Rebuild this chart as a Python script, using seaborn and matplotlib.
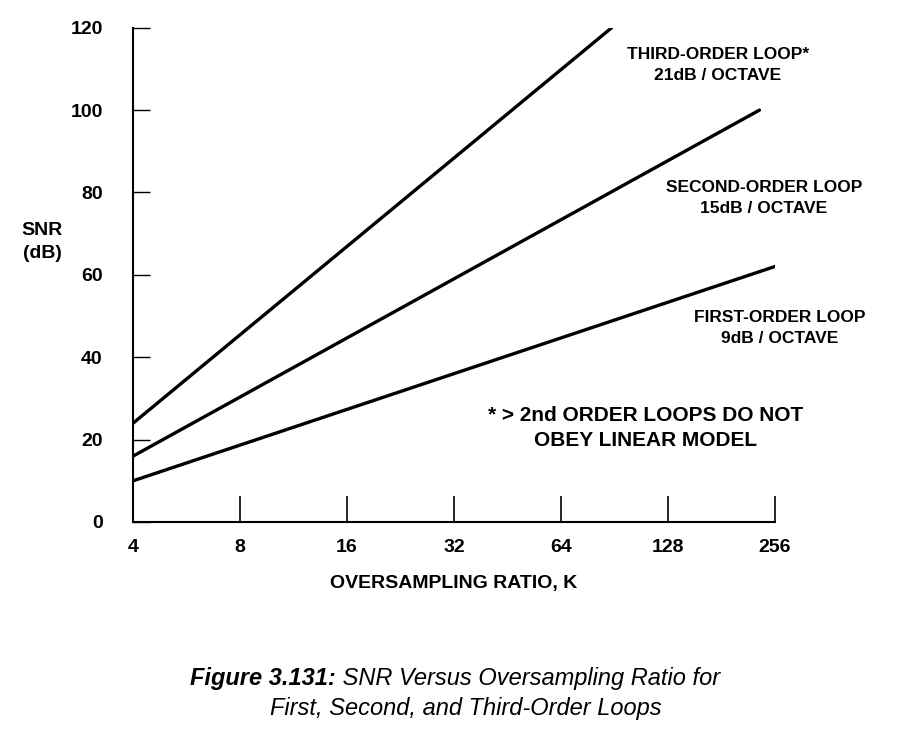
import matplotlib
matplotlib.use("Agg")
import matplotlib.pyplot as plt
import seaborn as sns
import pandas as pd

sns.set_theme(style="white")
plt.rcParams['font.family'] = ['Liberation Sans', 'DejaVu Sans']
plt.rcParams['text.color'] = 'black'
plt.rcParams['axes.labelcolor'] = 'black'

k_start = 4
first_end_k, first_vals = 256, [10, 62]
second_end_k, second_vals = 232, [16, 100]
third_end_k, third_vals = 89, [24, 120]
xticks = [4, 8, 16, 32, 64, 128, 256]
yticks = [0, 20, 40, 60, 80, 100, 120]

df = pd.DataFrame({
    "K": [k_start, first_end_k, k_start, second_end_k, k_start, third_end_k],
    "SNR": first_vals + second_vals + third_vals,
    "loop": ["first"]*2 + ["second"]*2 + ["third"]*2,
})

fig = plt.figure(figsize=(9.06, 7.30), dpi=100)
ax = fig.add_axes([0.147, 0.285, 0.708, 0.677])
sns.lineplot(data=df, x="K", y="SNR", hue="loop", palette=["black"]*3,
             legend=False, linewidth=2.4, ax=ax)
ax.set_xscale("log", base=2)
ax.set_xlim(4, 256)
ax.set_ylim(0, 120)
ax.set_xticks(xticks)
ax.set_xticklabels([str(t) for t in xticks])
ax.set_yticks(yticks)
ax.minorticks_off()
for s in ["top", "right"]:
    ax.spines[s].set_visible(False)
for s in ["left", "bottom"]:
    ax.spines[s].set_color("black")
    ax.spines[s].set_linewidth(1.5)
ax.tick_params(axis="x", bottom=True, direction="in", length=19, width=1.2, pad=12,
               colors="black", labelsize=14)
ax.tick_params(axis="y", left=True, direction="in", length=12, width=1.0, pad=22,
               colors="black", labelsize=14)
for lab in ax.get_xticklabels() + ax.get_yticklabels():
    lab.set_fontweight("bold")
ax.set_xlabel("OVERSAMPLING RATIO, K", fontsize=14, fontweight="bold", labelpad=14)
ax.set_ylabel("")
fig.text(42/906, 1-242/730, "SNR\n(dB)", ha="center", va="center", fontsize=14,
         fontweight="bold", linespacing=1.5)

def lbl(x, y, s):
    fig.text(x/906, 1-y/730, s, ha="center", va="center", fontsize=12.5,
             fontweight="bold", linespacing=1.45)
lbl(718, 65, "THIRD-ORDER LOOP*\n21dB / OCTAVE")
lbl(764, 198, "SECOND-ORDER LOOP\n15dB / OCTAVE")
lbl(780, 328, "FIRST-ORDER LOOP\n9dB / OCTAVE")
fig.text(646/906, 1-428/730, "* > 2nd ORDER LOOPS DO NOT\nOBEY LINEAR MODEL", ha="center",
         va="center", fontsize=15, fontweight="bold", linespacing=1.4)
t1 = fig.text(336/906, 1-679/730, "Figure 3.131:", ha="right", va="center",
              fontsize=17, style="italic", fontweight="bold")
fig.text(336/906, 1-679/730, " SNR Versus Oversampling Ratio for", ha="left", va="center",
         fontsize=17, style="italic")
fig.text(466/906, 1-709/730, "First, Second, and Third-Order Loops", ha="center", va="center",
         fontsize=17, style="italic")
fig.savefig("out.png", dpi=100)
